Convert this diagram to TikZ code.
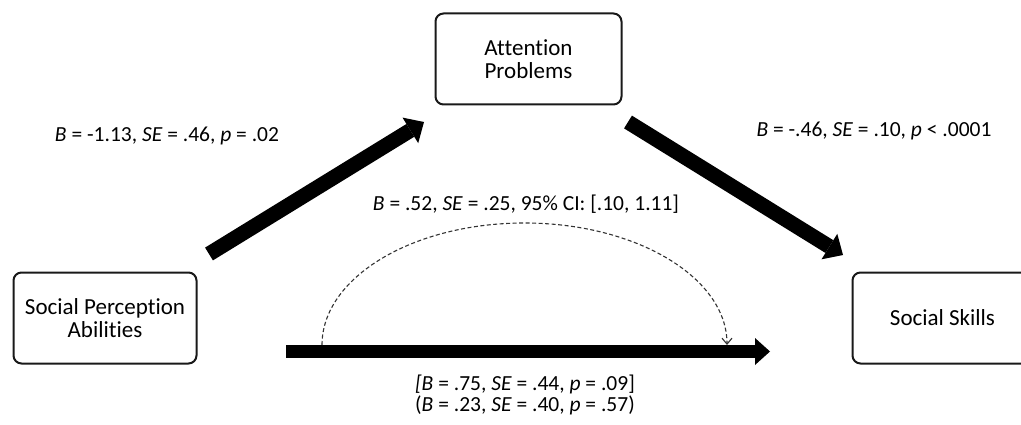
\documentclass[tikz,border=0pt]{standalone}
\usepackage{fontspec}
\setmainfont{Carlito}[Ligatures=CommonOff, RawFeature={-liga;-clig;-calt}]
\usetikzlibrary{arrows.meta,positioning}
\tikzset{
	var/.style = {draw=black!90, rounded corners=8pt, line width=2pt, align=center,
	 minimum height=91pt, font=\fontsize{23}{23}\selectfont},
	coef/.style = {align=center, font=\fontsize{21.5}{19}\selectfont},
	effect/.style = {line width=15pt, -{Triangle[length=16pt,width=30pt,line width=0pt]}},
	direct/.style = {line width=13pt, -{Triangle[length=15pt,width=27pt,line width=0pt]}},
	ind/.style = {dash pattern=on 4pt off 2.5pt, line width=1.1pt, black!80,
	 -{Straight Barb[length=6pt,width=10pt]}}
}

\begin{document}
\begin{tikzpicture}[x=1pt, y=-1pt]
\useasboundingbox (0,0) rectangle (1021,425);

% NODES
% variables
\node (att) [var, minimum width=186pt] at (528.5,59) {Attention\\Problems};
\node (spa) [var, minimum width=183pt] at (105,318) {Social Perception\\Abilities};
\node (ss) [var, minimum width=180pt] at (942.5,318) {Social Skills};
% path ends
\coordinate (atail) at (209,254);
\coordinate (ahead) at (424,122);
\coordinate (btail) at (628,122);
\coordinate (bhead) at (843,255);
\coordinate (ctail) at (286,351.5);
\coordinate (chead) at (770,351.5);
\coordinate (indstart) at (322,345);
\coordinate (indend) at (727,345);
% coefficients
\node (acoef) [coef] at (167,136) {\textit{B} = -1.13, \textit{SE} = .46, \textit{p} = .02};
\node (bcoef) [coef] at (874,131) {\textit{B} = -.46, \textit{SE} = .10, \textit{p} < .0001};
\node (indcoef) [coef] at (526,204) {\textit{B} = .52, \textit{SE} = .25, 95\% CI: [.10, 1.11]};
\node (ccoef) [coef] at (525,395) {\textit{[B} = .75, \textit{SE} = .44, \textit{p} = .09]\\(\textit{B} = .23, \textit{SE} = .40, \textit{p} = .57)};

%CONNECTIONS
\draw [effect] (atail) -- (ahead);
\draw [effect] (btail) -- (bhead);
\draw [direct] (ctail) -- (chead);
\draw [ind] (indstart) .. controls (322,277.6) and (412.7,223) .. (524.5,223)
 .. controls (636.3,223) and (727,277.6) .. (indend);

\end{tikzpicture}
\end{document}
